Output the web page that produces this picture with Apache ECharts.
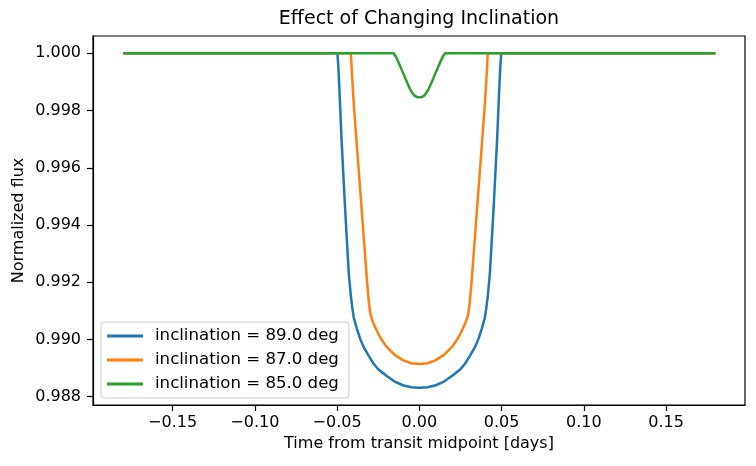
<!DOCTYPE html>
<html lang="en">
  <head>
    <meta charset="UTF-8" />
    <title>Effect of Changing Inclination</title>
    <style>
      html, body { margin: 0; padding: 0; background: #fff; }
      #main { width: 756px; height: 466px; }
    </style>
  </head>
  <body>
    <script src="https://cdn.jsdelivr.net/npm/echarts@6/dist/echarts.min.js"></script>
    <div id="main"></div>
    <script>
      const labels = ['inclination = 89.0 deg', 'inclination = 87.0 deg', 'inclination = 85.0 deg']
      const xTicks = [-0.15, -0.1, -0.05, 0, 0.05, 0.1, 0.15]
      const yTicks = [0.988, 0.99, 0.992, 0.994, 0.996, 0.998, 1.0]

      // inclination 89 deg
      const time89 = [-0.18, -0.0498, -0.0492, -0.0484, -0.0473, -0.0452, -0.0429, -0.0416, -0.0406, -0.0398, -0.038, -0.036, -0.034, -0.031, -0.028, -0.025, -0.02, -0.015, -0.01, -0.005, 0,
        0.005, 0.01, 0.015, 0.02, 0.025, 0.028, 0.031, 0.034, 0.036, 0.038, 0.0398, 0.0406, 0.0416, 0.0429, 0.0452, 0.0473, 0.0484, 0.0492, 0.0498, 0.18]
      const flux89 = [1.0, 1.0, 0.9995, 0.9985, 0.997, 0.99464, 0.99231, 0.9915, 0.99105, 0.99075, 0.99038, 0.99003, 0.98975, 0.98945, 0.98917, 0.98896, 0.98873, 0.98853, 0.9884, 0.98833, 0.98831,
        0.98833, 0.9884, 0.98853, 0.98873, 0.98896, 0.98917, 0.98945, 0.98975, 0.99003, 0.99038, 0.99075, 0.99105, 0.9915, 0.99231, 0.99464, 0.997, 0.9985, 0.9995, 1.0, 1.0]

      // inclination 87 deg
      const time87 = [-0.18, -0.0416, -0.041, -0.0397, -0.0367, -0.0337, -0.0316, -0.0306, -0.0297, -0.0283, -0.0266, -0.0248, -0.0228, -0.02, -0.015, -0.01, -0.005, 0,
        0.005, 0.01, 0.015, 0.02, 0.0228, 0.0248, 0.0266, 0.0283, 0.0297, 0.0306, 0.0316, 0.0337, 0.0367, 0.0397, 0.041, 0.0416, 0.18]
      const flux87 = [1.0, 1.0, 0.9993, 0.9981, 0.9958, 0.9935, 0.9919, 0.99125, 0.99088, 0.99062, 0.9904, 0.99018, 0.98998, 0.98975, 0.98946, 0.98928, 0.98917, 0.98914,
        0.98917, 0.98928, 0.98946, 0.98975, 0.98998, 0.99018, 0.9904, 0.99062, 0.99088, 0.99125, 0.9919, 0.9935, 0.9958, 0.9981, 0.9993, 1.0, 1.0]

      // inclination 85 deg
      const time85 = [-0.18, -0.0157, -0.0146, -0.0133, -0.0117, -0.0102, -0.0087, -0.0072, -0.0058, -0.0043, -0.0029, -0.0014, 0,
        0.0014, 0.0029, 0.0043, 0.0058, 0.0072, 0.0087, 0.0102, 0.0117, 0.0133, 0.0146, 0.0157, 0.18]
      const flux85 = [1.0, 1.0, 0.99992, 0.99977, 0.99956, 0.99936, 0.99915, 0.99895, 0.99877, 0.99862, 0.99852, 0.99847, 0.99846,
        0.99847, 0.99852, 0.99862, 0.99877, 0.99895, 0.99915, 0.99936, 0.99956, 0.99977, 0.99992, 1.0, 1.0]

      const colors = ['#1f77b4', '#ff7f0e', '#2ca02c']
      const font = 'DejaVu Sans'

      const pairs = (xs, ys) => xs.map((x, i) => [x, ys[i]])
      const fmtX = v => {
        const s = Math.abs(v).toFixed(2)
        return v < -1e-9 ? '\u2212' + s : s
      }

      const chart = echarts.init(document.getElementById('main'))
      chart.setOption({
        animation: false,
        color: colors,
        textStyle: { fontFamily: font, color: '#000' },
        title: {
          text: 'Effect of Changing Inclination',
          left: 419,
          top: 10,
          padding: 0,
          textAlign: 'center',
          textStyle: { fontFamily: font, fontSize: 19, fontWeight: 'normal', color: '#000' }
        },
        grid: {
          left: 93,
          right: 11,
          top: 36,
          bottom: 61,
          show: true,
          borderColor: '#000',
          borderWidth: 1.2,
          backgroundColor: '#fff'
        },
        legend: {
          orient: 'vertical',
          left: 101,
          top: 322,
          icon: 'rect',
          itemWidth: 36,
          itemHeight: 3,
          itemGap: 6,
          padding: [5, 10, 5, 6],
          borderColor: '#cccccc',
          borderWidth: 1,
          borderRadius: 3,
          backgroundColor: 'rgba(255,255,255,0.8)',
          textStyle: { fontFamily: font, fontSize: 16.6, lineHeight: 18, color: '#000', padding: [0, 0, 0, 7] },
          data: labels
        },
        xAxis: {
          type: 'value',
          min: -0.1984,
          max: 0.198,
          name: 'Time from transit midpoint [days]',
          nameLocation: 'middle',
          nameGap: 30,
          nameTextStyle: { fontFamily: font, fontSize: 16, color: '#000' },
          splitLine: { show: false },
          axisLine: { onZero: false, lineStyle: { color: '#000', width: 1.2 } },
          axisTick: { show: true, length: 6, customValues: xTicks, lineStyle: { color: '#000', width: 1.2 } },
          axisLabel: { customValues: xTicks, margin: 10, fontFamily: font, fontSize: 16, color: '#000', formatter: fmtX }
        },
        yAxis: {
          type: 'value',
          min: 0.98771,
          max: 1.000605,
          name: 'Normalized flux',
          nameLocation: 'middle',
          nameGap: 66,
          nameMoveOverlap: false,
          nameTextStyle: { fontFamily: font, fontSize: 16, color: '#000' },
          splitLine: { show: false },
          axisLine: { show: true, onZero: false, lineStyle: { color: '#000', width: 1.2 } },
          axisTick: { show: true, length: 6, customValues: yTicks, lineStyle: { color: '#000', width: 1.2 } },
          axisLabel: { customValues: yTicks, margin: 12, fontFamily: font, fontSize: 16, color: '#000', formatter: v => v.toFixed(3) }
        },
        series: [
          { name: labels[0], type: 'line', data: pairs(time89, flux89), showSymbol: false, lineStyle: { width: 2.5 } },
          { name: labels[1], type: 'line', data: pairs(time87, flux87), showSymbol: false, lineStyle: { width: 2.5 } },
          { name: labels[2], type: 'line', data: pairs(time85, flux85), showSymbol: false, lineStyle: { width: 2.5 } }
        ]
      })
    </script>
  </body>
</html>
